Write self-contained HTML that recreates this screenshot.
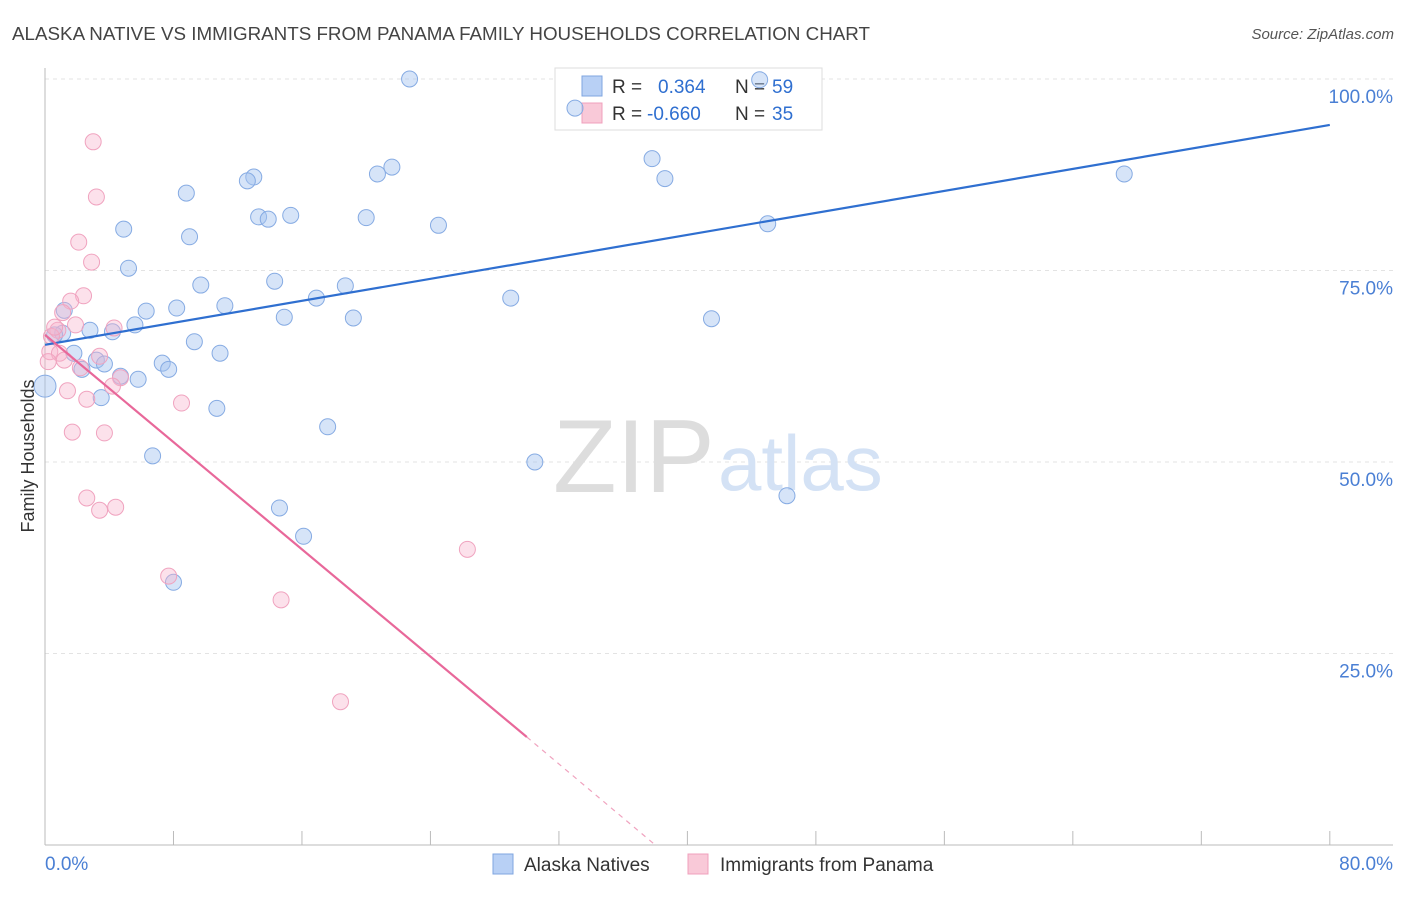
<!DOCTYPE html>
<html><head><meta charset="utf-8"><style>
body{margin:0;background:#fff;font-family:"Liberation Sans",sans-serif;}
svg text{font-family:"Liberation Sans",sans-serif;}
</style></head><body>
<svg id="chart" width="1406" height="892" xmlns="http://www.w3.org/2000/svg">
<text x="12" y="40" font-size="18.5" fill="#444" textLength="858" lengthAdjust="spacingAndGlyphs">ALASKA NATIVE VS IMMIGRANTS FROM PANAMA FAMILY HOUSEHOLDS CORRELATION CHART</text>
<text x="1394" y="39" font-size="15" fill="#555" text-anchor="end" font-style="italic">Source: ZipAtlas.com</text>
<g id="grid"></g>
<text x="553" y="492" font-size="104" fill="#ddd" font-family="Liberation Serif, serif">ZIP</text>
<text x="718" y="490" font-size="78" fill="#d4e2f5">atlas</text>
<g id="axes"></g>
<g>
<rect x="555" y="68" width="267" height="62" fill="#fff" stroke="#ddd"/>
<rect x="582" y="76" width="20" height="20" fill="#b8d0f5" stroke="#7fa6e0"/>
<rect x="582" y="103" width="20" height="20" fill="#f9c9d8" stroke="#f0a0bc"/>
<text x="612" y="93" font-size="19" fill="#333">R =</text>
<text x="658" y="93" font-size="19" fill="#2f6fd0">0.364</text>
<text x="735" y="93" font-size="19" fill="#333">N =</text>
<text x="772" y="93" font-size="19" fill="#2f6fd0">59</text>
<text x="612" y="120" font-size="19" fill="#333">R =</text>
<text x="647" y="120" font-size="19" fill="#2f6fd0">-0.660</text>
<text x="735" y="120" font-size="19" fill="#333">N =</text>
<text x="772" y="120" font-size="19" fill="#2f6fd0">35</text>
</g>
<g id="pts"></g>
<g id="lines"></g>
<text transform="translate(34,456) rotate(-90)" font-size="18" fill="#333" text-anchor="middle">Family Households</text>
<text x="45" y="870" font-size="19" fill="#4a7fd4">0.0%</text>
<text x="1393" y="870" font-size="19" fill="#4a7fd4" text-anchor="end">80.0%</text>
<g>
<rect x="493" y="854" width="20" height="20" fill="#b8d0f5" stroke="#7fa6e0"/>
<text x="524" y="871" font-size="19" fill="#333">Alaska Natives</text>
<rect x="688" y="854" width="20" height="20" fill="#f9c9d8" stroke="#f0a0bc"/>
<text x="720" y="871" font-size="19" fill="#333">Immigrants from Panama</text>
</g>
</svg>
<script>
const blueX=[22.7,44.5,33.0,21.6,20.7,13.0,12.6,37.8,38.6,67.2,8.8,13.3,13.9,15.3,20.0,24.5,45.0,4.9,9.0,5.2,14.3,9.7,18.7,16.9,29.0,6.3,8.2,11.2,1.2,14.9,19.2,41.5,5.6,2.8,4.2,9.3,10.9,1.8,3.2,3.7,7.3,7.7,2.3,4.7,5.8,0.0,3.5,10.7,17.6,6.7,30.5,46.2,14.6,16.1,8.0,1.1,0.6];
const blueY=[100.0,99.9,96.2,88.5,87.6,87.2,86.7,89.6,87.0,87.6,85.1,82.0,81.7,82.2,81.9,80.9,81.1,80.4,79.4,75.3,73.6,73.1,73.0,71.4,71.4,69.7,70.1,70.4,69.8,68.9,68.8,68.7,67.9,67.2,67.0,65.7,64.2,64.2,63.3,62.8,62.9,62.1,62.1,61.2,60.8,59.9,58.4,57.0,54.6,50.8,50.0,45.6,44.0,40.3,34.3,66.8,66.6];
const pinkX=[3.0,3.2,2.1,2.9,2.4,1.6,1.1,1.9,4.3,0.8,0.4,0.6,0.3,0.9,1.2,3.4,0.2,2.2,4.7,4.2,1.4,2.6,8.5,1.7,3.7,2.6,4.4,3.4,7.7,26.3,14.7,18.4];
const pinkY=[91.8,84.6,78.7,76.1,71.7,71.0,69.5,67.9,67.5,67.2,66.4,67.6,64.4,64.2,63.3,63.8,63.1,62.3,61.0,59.9,59.3,58.2,57.7,53.9,53.8,45.3,44.1,43.7,35.1,38.6,32.0,18.7];
const yTicks=[25,50,75,100];
const yTickLabels=["25.0%","50.0%","75.0%","100.0%"];
const xTicks=[0,8,16,24,32,40,48,56,64,72,80];
const blueLine=[[0,65.3],[80,94.0]];
const pinkLine=[[0,66.6],[30,14.1]];
const pinkDash=[[30,14.1],[38,0]];
const X=v=>45+v*16.06, Y=v=>845-v*7.66;
const NS="http://www.w3.org/2000/svg";
function mk(p,t,a){const e=document.createElementNS(NS,t);for(const k in a)e.setAttribute(k,a[k]);p.appendChild(e);return e;}
const grid=document.getElementById('grid'),axes=document.getElementById('axes'),pts=document.getElementById('pts'),lines=document.getElementById('lines');
yTicks.forEach((t,i)=>{const l=mk(grid,'line',{x1:45,x2:1393,y1:Y(t),y2:Y(t),stroke:'#e3e3e3','stroke-dasharray':'4,4'});


const tx=mk(grid,'text',{x:1393,y:Y(t)+24,'font-size':19,fill:'#4a7fd4','text-anchor':'end'});tx.textContent=yTickLabels[i];

});
mk(axes,'line',{x1:45,x2:45,y1:68,y2:845,stroke:'#bbb'});
mk(axes,'line',{x1:45,x2:1393,y1:845,y2:845,stroke:'#bbb'});
xTicks.forEach(t=>{const l=mk(axes,'line',{x1:X(t),x2:X(t),y1:831,y2:845,stroke:'#bbb'});

});
blueX.forEach((x,i)=>{const c=mk(pts,'circle',{cx:X(x),cy:Y(blueY[i]),r:x===0?11:8,fill:'rgba(165,195,240,0.45)',stroke:'#86abe3','stroke-width':1});

});
pinkX.forEach((x,i)=>{const c=mk(pts,'circle',{cx:X(x),cy:Y(pinkY[i]),r:8,fill:'rgba(248,180,204,0.4)',stroke:'#f0a3bf','stroke-width':1});

});
const bl=mk(lines,'line',{x1:X(blueLine[0][0]),y1:Y(blueLine[0][1]),x2:X(blueLine[1][0]),y2:Y(blueLine[1][1]),stroke:'#2f6fd0','stroke-width':2.2});


const pl=mk(lines,'line',{x1:X(pinkLine[0][0]),y1:Y(pinkLine[0][1]),x2:X(pinkLine[1][0]),y2:Y(pinkLine[1][1]),stroke:'#e8689a','stroke-width':2.2});


const pd=mk(lines,'line',{x1:X(pinkDash[0][0]),y1:Y(pinkDash[0][1]),x2:X(pinkDash[1][0]),y2:Y(pinkDash[1][1]),stroke:'#f0a3bf','stroke-width':1.2,'stroke-dasharray':'5,5'});


</script>
</body></html>
